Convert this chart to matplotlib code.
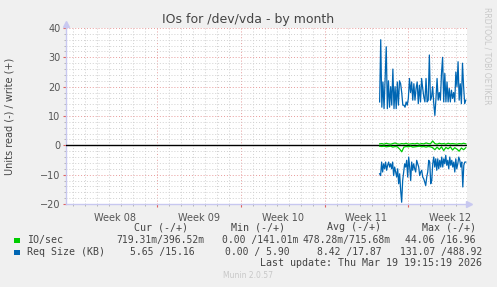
import matplotlib
matplotlib.use('Agg')

import numpy as np
import matplotlib.pyplot as plt
from matplotlib.patches import Rectangle
from matplotlib.ticker import MultipleLocator

# ---- data ----
week_labels = ["Week 08", "Week 09", "Week 10", "Week 11", "Week 12"]
data_start, data_end = 26.2, 33.4   # days from left edge of graph

req_write = [14.8, 36.0, 13.0, 21.6, 12.5, 23.0, 33.6, 12.5, 22.0, 13.0,
             20.0, 13.7, 26.0, 12.5, 20.0, 12.5, 21.6, 13.7, 22.0, 21.0,
             18.0, 13.7, 13.7, 13.0, 14.8, 13.7, 16.0, 22.8, 18.0, 21.6,
             15.4, 21.0, 15.4, 19.4, 21.6, 14.2, 20.5, 14.8, 22.8, 19.4,
             16.5, 14.8, 22.8, 14.8, 15.4, 30.8, 15.4, 16.5, 20.0, 14.2,
             10.2, 16.0, 22.8, 15.4, 18.0, 15.4, 24.5, 30.0, 14.8, 24.5,
             14.8, 21.6, 14.8, 19.4, 14.8, 18.8, 16.0, 18.0, 14.8, 25.0,
             20.0, 28.5, 15.4, 21.0, 14.2, 28.0, 20.0, 14.2, 15.4]

req_read = [-9.7, -10.3, -5.7, -9.1, -6.3, -8.0, -5.7, -8.5, -6.8, -5.7,
            -7.4, -6.3, -8.0, -5.7, -10.3, -7.4, -9.1, -10.8, -8.0, -13.1,
            -9.7, -15.4, -19.4, -12.0, -9.1, -6.3, -7.4, -5.1, -10.8, -4.0,
            -7.4, -12.0, -5.7, -8.5, -6.3, -8.0, -9.1, -5.1, -6.3, -7.4,
            -10.3, -9.1, -8.5, -10.8, -11.4, -12.5, -13.7, -10.8, -9.1, -5.1,
            -5.7, -13.1, -12.0, -6.3, -4.0, -7.4, -4.6, -8.5, -4.6, -8.0,
            -5.1, -7.4, -4.0, -7.4, -4.6, -6.3, -3.4, -6.8, -5.1, -8.0,
            -4.0, -6.8, -5.1, -7.4, -5.7, -9.1, -4.6, -8.0, -6.3, -4.0,
            -5.1, -7.4, -5.7, -14.2, -6.8, -5.7, -5.7]

io_write = [0.5, 0.6, 0.4, 0.7, 0.5, 0.4, 0.6, 0.8, 0.5, 0.4,
            0.6, 0.5, 0.7, 0.4, 0.5, 0.6, 0.5, 0.7, 0.4, 0.6,
            0.5, 0.8, 0.6, 0.5, 1.5, 0.6, 0.4, 0.7, 0.5, 0.6,
            0.4, 0.7, 0.5, 0.6, 0.5, 0.4, 0.6, 0.5, 0.7, 0.5]

io_read = [-0.3, -0.4, -0.3, -0.5, -0.4, -0.3, -0.6, -0.4, -0.5, -1.2,
           -2.2, -0.6, -0.4, -0.5, -0.3, -0.6, -0.5, -0.4, -0.3, -0.5,
           -0.4, -0.6, -0.4, -0.5, -0.8, -1.5, -0.6, -1.4, -0.5, -1.8,
           -0.7, -1.2, -0.5, -1.6, -0.8, -1.3, -2.0, -0.9, -1.5, -0.8]

# legend values per column: Cur, Min, Avg, Max (read / write)
io_stats = ["719.31m/396.52m", "0.00 /141.01m", "478.28m/715.68m", "44.06 /16.96"]
req_stats = ["5.65 /15.16", "0.00 / 5.90", "8.42 /17.87", "131.07 /488.92"]
legend_names = ["IO/sec", "Req Size (KB)"]
legend_header = ["Cur (-/+)", "Min (-/+)", "Avg (-/+)", "Max (-/+)"]
last_update = "Last update: Thu Mar 19 19:15:19 2026"

GREEN = '#00cc00'
BLUE = '#0066b3'
BG = '#f0f0f0'

W, H = 497, 287
fig = plt.figure(figsize=(W / 100, H / 100), dpi=100, facecolor=BG)

def fx(x):
    return x / W

def fy(y):
    return 1 - y / H

ax = fig.add_axes([fx(66), fy(204), fx(467) - fx(66), fy(28) - fy(204)])
ax.set_facecolor('white')

x_total = 33.5
ax.set_xlim(0, x_total)
ax.set_ylim(-20, 40)

# grid: gray every day / 2 units, red every week / 10 units
first_week = 7.6
ax.xaxis.set_major_locator(plt.FixedLocator(np.arange(first_week, x_total, 7)))
ax.xaxis.set_minor_locator(plt.FixedLocator(np.arange(first_week % 1, x_total, 1)))
ax.yaxis.set_major_locator(MultipleLocator(10))
ax.yaxis.set_minor_locator(MultipleLocator(2))
ax.grid(which='minor', color='#d0d0d0', linestyle=(0, (1, 2)), linewidth=0.7)
ax.grid(which='major', color='#e89a9a', linestyle=(0, (1, 2)), linewidth=0.7)
ax.set_axisbelow(True)

ax.set_xticklabels([])
ax.tick_params(axis='x', which='major', length=2, color='#e06060', direction='out')
ax.tick_params(axis='x', which='minor', length=1.5, color='#aaaaaa', direction='out')
ax.tick_params(axis='y', which='major', length=2, color='#e06060', direction='out',
               labelsize=7, labelcolor='#555555', pad=2)
ax.tick_params(axis='y', which='minor', length=1.5, color='#aaaaaa', direction='out')

for lbl, start in zip(week_labels, np.arange(first_week - 7, x_total, 7)):
    ax.text(start + 3.5, -0.05, lbl, transform=ax.get_xaxis_transform(),
            ha='center', va='top', fontsize=7, color='#555555')

for s in ['top', 'right']:
    ax.spines[s].set_visible(False)
for s in ['left', 'bottom']:
    ax.spines[s].set_color('#c8c8f0')
    ax.spines[s].set_linewidth(1)
ax.plot([0], [1.02], marker='^', color='#c8c8f0', markersize=4,
        transform=ax.transAxes, clip_on=False)
ax.plot([1.005], [0], marker='>', color='#c8c8f0', markersize=4,
        transform=ax.transAxes, clip_on=False)

ax.axhline(0, color='black', linewidth=1, zorder=3)

x_req_w = np.linspace(data_start, data_end, len(req_write))
x_req_r = np.linspace(data_start, data_end, len(req_read))
x_io_w = np.linspace(data_start, data_end, len(io_write))
x_io_r = np.linspace(data_start, data_end, len(io_read))

ax.plot(x_io_w, io_write, color=GREEN, linewidth=0.9, zorder=4)
ax.plot(x_io_r, io_read, color=GREEN, linewidth=0.9, zorder=4)
ax.plot(x_req_w, req_write, color=BLUE, linewidth=0.9, zorder=5)
ax.plot(x_req_r, req_read, color=BLUE, linewidth=0.9, zorder=5)

# texts
fig.text(fx(248), fy(19), "IOs for /dev/vda - by month", ha='center', va='center',
         fontsize=9, color='#444444')
fig.text(fx(10), fy(116), "Units read (-) / write (+)", rotation=90,
         ha='center', va='center', fontsize=7, color='#444444')
fig.text(fx(487), fy(56), "RRDTOOL / TOBI OETIKER", rotation=270,
         ha='center', va='center', fontsize=5.5, color='#c8c8c8')

mono = dict(family='DejaVu Sans Mono', fontsize=7.2, color='#444444', va='center')
cell = dict(mono, fontsize=7.0, ha='center')

header_x = [134, 231, 327, 422]
for x, h in zip(header_x, legend_header):
    fig.text(fx(x), fy(227), h, **mono)

# centre of each legend cell, in pixels
cell_x = [[160, 260, 347, 440], [162, 257.5, 349, 441]]
row_y = [240, 252]
for name, stats, y, xs, col in zip(legend_names, [io_stats, req_stats], row_y,
                                   cell_x, [GREEN, BLUE]):
    fig.patches.append(Rectangle((fx(14), fy(y + 3)), fx(5.5), fy(0) - fy(5.5),
                                 transform=fig.transFigure, facecolor=col,
                                 edgecolor='none'))
    fig.text(fx(26.7), fy(y), name, **mono)
    for x, v in zip(xs, stats):
        fig.text(fx(x), fy(y), v, **cell)

fig.text(fx(482), fy(263), last_update, ha='right', va='center',
         family='DejaVu Sans Mono', fontsize=7.2, color='#444444')
fig.text(fx(248), fy(276), "Munin 2.0.57", ha='center', va='center',
         fontsize=5.5, color='#c8c8c8')

fig.savefig('out.png', dpi=100, facecolor=BG)
